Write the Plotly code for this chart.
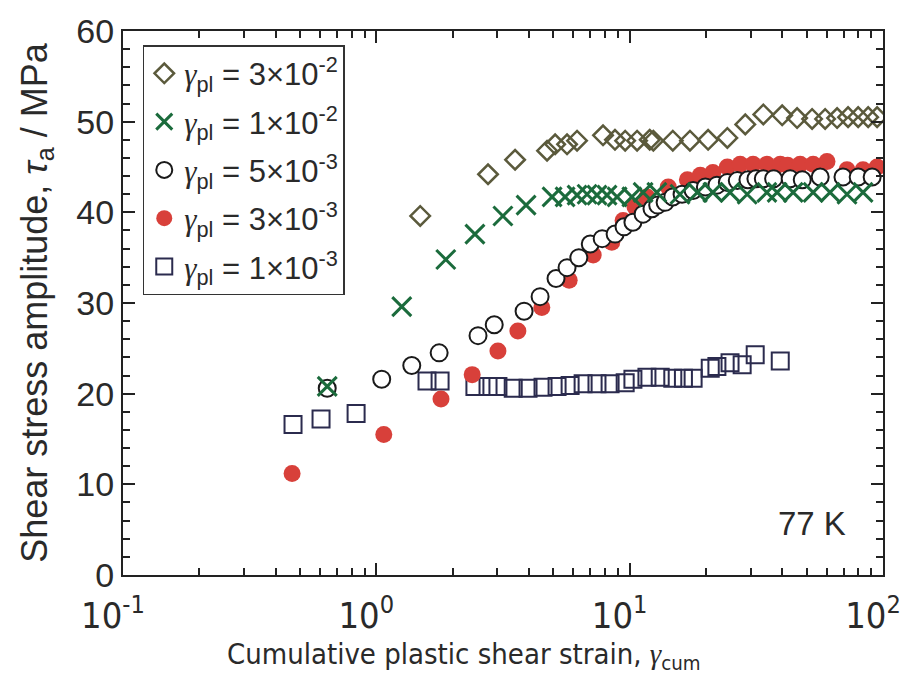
import plotly.graph_objects as go

# ---------------- data ----------------
# gamma_pl = 3e-2 (diamonds)
d_x = [1.49, 2.76, 3.53, 4.72, 5.08, 5.66, 6.2, 7.85, 8.75, 9.6, 10.7, 12.0, 12.4,
       14.8, 17.3, 20.4, 24.3, 28.6, 33.7, 40.0, 45.8, 52.5, 59.1, 65.9, 72.8, 79.8, 87.4, 94.8]
d_y = [39.6, 44.2, 45.8, 46.8, 47.5, 47.5, 47.9, 48.5, 48.0, 47.9, 47.9, 48.0, 47.9,
       47.9, 47.9, 48.0, 48.2, 49.7, 50.8, 50.7, 50.4, 50.3, 50.3, 50.4, 50.5, 50.5, 50.5, 50.5]

# gamma_pl = 1e-2 (crosses)
x_x = [0.64, 1.26, 1.88, 2.45, 3.16, 3.9, 4.94, 5.56, 6.2, 6.79, 7.43, 8.14, 8.92, 10.2,
       11.3, 12.8, 15.8, 18.5, 21.3, 24.9, 29.1, 34.8, 38.2, 44.2, 53.0, 61.8, 72.1, 83.4]
x_y = [20.8, 29.6, 34.8, 37.6, 39.6, 40.8, 41.7, 41.7, 41.9, 42.0, 41.9, 41.9, 41.7, 41.7,
       42.2, 42.2, 42.0, 42.2, 42.2, 42.2, 42.0, 42.2, 42.2, 42.2, 42.2, 42.2, 42.0, 42.2]

# gamma_pl = 5e-3 (open circles)
c_x = [0.64, 1.05, 1.38, 1.77, 2.52, 2.92, 3.83, 4.43, 5.12, 5.66, 6.3, 6.99, 7.79, 8.76,
       9.5, 10.3, 11.3, 12.25, 12.9, 13.8, 14.8, 16.1, 17.8, 19.9, 22.1, 24.3, 26.6, 29.3,
       31.5, 33.7, 37.0, 43.0, 48.0, 56.5, 69.5, 79.8, 90.6]
c_y = [20.6, 21.6, 23.1, 24.5, 26.4, 27.6, 29.1, 30.7, 32.7, 33.9, 35.0, 36.5, 37.1, 37.6,
       38.4, 38.9, 39.8, 40.4, 40.8, 41.1, 41.7, 42.0, 42.4, 42.8, 43.0, 43.3, 43.5, 43.6,
       43.7, 43.7, 43.7, 43.7, 43.6, 43.9, 43.9, 43.9, 43.9]

# gamma_pl = 3e-3 (filled circles)
r_x = [0.465, 1.07, 1.80, 2.39, 3.02, 3.62, 4.5, 5.77, 7.18, 8.5, 9.42, 10.5, 11.7, 14.2,
       16.9, 19.0, 21.3, 24.3, 27.3, 30.7, 34.8, 39.3, 42.0, 47.1, 53.0, 60.1, 72.1, 83.4, 94.8]
r_y = [11.2, 15.5, 19.4, 22.1, 24.7, 26.9, 29.5, 32.5, 35.3, 36.7, 39.1, 40.6, 41.7, 42.8,
       43.6, 44.1, 44.4, 45.0, 45.3, 45.3, 45.3, 45.3, 45.2, 45.3, 45.3, 45.6, 44.7, 44.7, 45.0]

# gamma_pl = 1e-3 (open squares)
s_x = [0.469, 0.605, 0.832, 1.585, 1.785, 2.45, 2.76, 3.02, 3.47, 3.97, 4.55, 5.17, 5.82,
       6.55, 7.43, 8.37, 9.6, 10.3, 11.7, 13.2, 14.8, 16.3, 17.8, 20.8, 22.1, 24.9, 27.8,
       31.3, 39.3]
s_y = [16.6, 17.2, 17.8, 21.4, 21.4, 20.8, 20.8, 20.8, 20.6, 20.6, 20.7, 20.8, 20.9,
       21.1, 21.1, 21.1, 21.2, 21.6, 21.8, 21.8, 21.7, 21.7, 21.7, 22.8, 23.0, 23.4, 23.2,
       24.3, 23.6]

labels = ["3×10<sup>-2</sup>", "1×10<sup>-2</sup>", "5×10<sup>-3</sup>",
          "3×10<sup>-3</sup>", "1×10<sup>-3</sup>"]
x_tickvals = [0.1, 1, 10, 100]
x_ticktext = ["10<sup>-1</sup>", "10<sup>0</sup>", "10<sup>1</sup>", "10<sup>2</sup>"]
y_tickvals = [0, 10, 20, 30, 40, 50, 60]

FONT = "Liberation Sans, Arial, sans-serif"
NARROW = "Liberation Sans Narrow, DejaVu Sans Condensed, Roboto Condensed, Roboto, sans-serif"
G = "<span style='font-family:Liberation Serif'><i>γ</i></span>"


def name(lbl):
    return f"{G}<sub>pl</sub> = {lbl}"


fig = go.Figure()
# draw order: squares, red, circles, crosses, diamonds
fig.add_trace(go.Scatter(x=s_x, y=s_y, mode="markers", name=name(labels[4]), legendrank=5,
                         legendgroup="e",
                         marker=dict(symbol="square-open", size=17, color="#2b2b4e",
                                     line=dict(width=2, color="#2b2b4e"))))
fig.add_trace(go.Scatter(x=r_x, y=r_y, mode="markers", name=name(labels[3]), legendrank=4,
                         legendgroup="d",
                         marker=dict(symbol="circle", size=17, color="#d8403a",
                                     line=dict(width=0))))
fig.add_trace(go.Scatter(x=c_x, y=c_y, mode="markers", name=name(labels[2]), legendrank=3,
                         legendgroup="c",
                         marker=dict(symbol="circle", size=17, color="white",
                                     line=dict(width=2, color="#1a1a1a"))))
fig.add_trace(go.Scatter(x=x_x, y=x_y, mode="markers", name=name(labels[1]), legendrank=2,
                         legendgroup="b",
                         marker=dict(symbol="x-thin", size=19, color="#1b6b3c",
                                     line=dict(width=3, color="#1b6b3c"))))
fig.add_trace(go.Scatter(x=d_x, y=d_y, mode="markers", name=name(labels[0]), legendrank=1,
                         legendgroup="a",
                         marker=dict(symbol="diamond-open", size=15, color="#5b5a3c",
                                     line=dict(width=2.5, color="#5b5a3c"))))

minor_x = [m * 10 ** k for k in (-1, 0, 1) for m in range(2, 10)]

fig.update_xaxes(type="log", range=[-1, 2], tickmode="array", tickvals=x_tickvals,
                 ticktext=x_ticktext, ticks="inside", ticklen=12, tickwidth=1.5,
                 tickcolor="#222", showline=True, linecolor="#222", linewidth=2,
                 mirror="allticks", showgrid=False, zeroline=False,
                 ticklabelshift=-10, ticklabelstandoff=8,
                 tickfont=dict(family=NARROW, size=36, color="#2a2a2a"),
                 minor=dict(tickmode="array", tickvals=minor_x, ticks="inside", ticklen=7,
                            tickwidth=1.5, tickcolor="#222", showgrid=False))
fig.update_yaxes(range=[0, 60], tickmode="array", tickvals=y_tickvals, ticks="inside",
                 ticklen=12, tickwidth=1.5, tickcolor="#222", showline=True, linecolor="#222",
                 linewidth=2, mirror="allticks", showgrid=False, zeroline=False,
                 tickfont=dict(family=FONT, size=34, color="#2a2a2a"),
                 minor=dict(dtick=2, ticks="inside", ticklen=7, tickwidth=1.5,
                            tickcolor="#222", showgrid=False),
                 title=dict(text="Shear stress amplitude, <i>τ</i><sub>a</sub> / MPa",
                            font=dict(family=FONT, size=36, color="#2a2a2a"), standoff=18))

# x-axis title (slightly left of centre, as in the original)
fig.add_annotation(x=0.449, y=-0.149, xref="paper", yref="paper",
                   text=f"Cumulative plastic shear strain, {G}<sub>cum</sub>",
                   showarrow=False, xanchor="center", yanchor="middle",
                   font=dict(family=NARROW, size=29, color="#2a2a2a"))

fig.add_annotation(x=0.954, y=0.095, xref="paper", yref="paper", text="77 K", showarrow=False,
                   xanchor="right", yanchor="middle",
                   font=dict(family=FONT, size=33, color="#2a2a2a"))

fig.update_layout(
    width=913, height=682, autosize=False,
    margin=dict(l=123, r=30, t=28, b=107),
    paper_bgcolor="white", plot_bgcolor="white",
    font=dict(family=FONT, color="#2a2a2a"),
    legend=dict(x=0.026, y=0.974, xanchor="left", yanchor="top",
                traceorder="grouped", tracegroupgap=5,
                bordercolor="#333", borderwidth=1.5, bgcolor="white",
                font=dict(family=FONT, size=31, color="#2a2a2a"),
                itemsizing="trace"),
    showlegend=True,
)

fig.write_html("out.html")
